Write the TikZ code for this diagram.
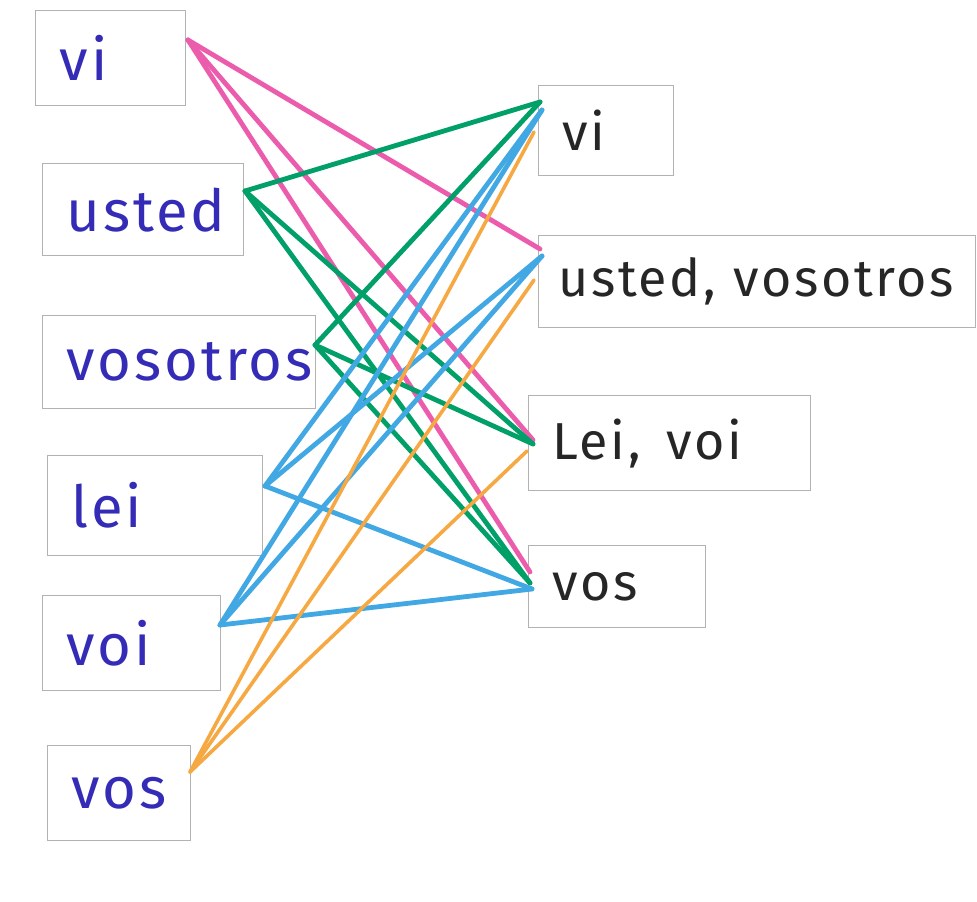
\documentclass[tikz,border=0pt]{standalone}
\usepackage{fontspec}
\setmainfont{Fira Sans}[LetterSpace=5]
\usepackage{xcolor}
\usetikzlibrary{calc}

\definecolor{pencil}{RGB}{178,178,178}
\definecolor{inkblue}{RGB}{52,44,182}
\definecolor{inkblack}{RGB}{38,38,38}
\definecolor{penpink}{RGB}{236,92,172}
\definecolor{pengreen}{RGB}{0,160,104}
\definecolor{penblue}{RGB}{66,168,228}
\definecolor{penorange}{RGB}{246,168,66}

\begin{document}
\begin{tikzpicture}[
    x=1pt, y=-1pt,
    word/.style={draw=pencil, line width=1.3pt, anchor=north west, inner xsep=24pt, inner ysep=0pt, align=left},
    src/.style={word, text=inkblue, font=\fontsize{58}{62}\selectfont},
    dst/.style={word, text=inkblack, font=\fontsize{52}{58}\selectfont},
    pen/.style={line width=4.8pt, line cap=round},
    ]
    \useasboundingbox (0,0) rectangle (977,902);

    % Left column: forms
    \node[src, text width=102pt, minimum height=95pt] (lvi) at (35,10) {vi};
    \node[src, text width=153pt, minimum height=92pt] (lusted) at (42,163) {usted};
    \node[src, text width=225pt, minimum height=93pt] (lvosotros) at (42,315) {vosotros};
    \node[src, text width=167pt, minimum height=100pt] (llei) at (47,455) {lei};
    \node[src, text width=130pt, minimum height=95pt] (lvoi) at (42,595) {voi};
    \node[src, text width=95pt, minimum height=95pt] (lvos) at (47,745) {vos};

    % Right column: groups
    \node[dst, text width=87pt, minimum height=90pt] (rvi) at (538,85) {vi};
    \node[dst, minimum height=92pt, inner xsep=20pt, text width=397pt] (rusted) at (538,235) {\mbox{usted, vosotros}};
    \node[dst, text width=234pt, minimum height=95pt] (rlei) at (528,395) {Lei,\, voi};
    \node[dst, text width=129pt, minimum height=82pt] (rvos) at (528,545) {vos};

    % Pen dots
    \coordinate (lvi-o) at (188,40);
    \coordinate (lusted-o) at (245,191);
    \coordinate (lvosotros-o) at (315,345);
    \coordinate (llei-o) at (265,486);
    \coordinate (lvoi-o) at (220,625);
    \coordinate (lvos-o) at (190,772);
    \coordinate (rvi-i) at (540,106);
    \coordinate (rusted-i) at (540,256);
    \coordinate (rlei-i) at (533,444);
    \coordinate (rvos-i) at (530,580);

    % vi
    \foreach \to/\dy in {rusted/-7, rlei/-4, rvos/-8} {
        \draw[pen, penpink] (lvi-o) -- ($(\to-i)+(0,\dy)$);
    }
    % usted, vosotros
    \foreach \from in {lusted, lvosotros} {
        \foreach \to/\dy in {rvi/-4, rlei/0, rvos/3} {
            \draw[pen, pengreen] (\from-o) -- ($(\to-i)+(0,\dy)$);
        }
    }
    % lei, voi
    \foreach \from in {llei, lvoi} {
        \foreach \to/\dy in {rvi/4, rusted/0, rvos/9} {
            \draw[pen, penblue] (\from-o) -- ($(\to-i)+(2,\dy)$);
        }
    }
    % vos
    \foreach \to/\dy in {rvi/26, rusted/24, rlei/7} {
        \draw[pen, penorange, line width=3.6pt] (lvos-o) -- ($(\to-i)+(-6,\dy)$);
    }
\end{tikzpicture}
\end{document}
